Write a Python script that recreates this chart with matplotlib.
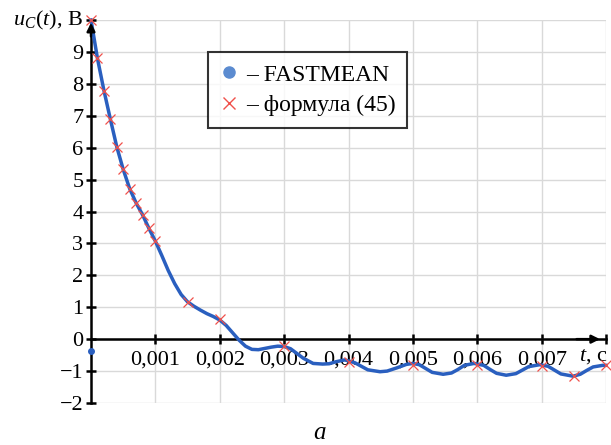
import matplotlib
matplotlib.use('Agg')
import matplotlib.pyplot as plt
from matplotlib.lines import Line2D

# Кривая FASTMEAN
t_curve = [0, 0.0001, 0.0002, 0.0003, 0.0004, 0.0005, 0.0006, 0.0007, 0.0008,
           0.0009, 0.001, 0.0011, 0.0012, 0.0013, 0.0014, 0.0015, 0.0016,
           0.0017, 0.0018, 0.0019, 0.002, 0.0021, 0.0022, 0.0023, 0.0024,
           0.0025, 0.0026, 0.0027, 0.0028, 0.0029, 0.003, 0.0031, 0.0032,
           0.0033, 0.00345, 0.0036, 0.0037, 0.0038, 0.00394, 0.004, 0.0041,
           0.0042, 0.0043, 0.00449, 0.0046, 0.00475, 0.0049, 0.005, 0.0051,
           0.0052, 0.0053, 0.00547, 0.0056, 0.0057, 0.0058, 0.00595, 0.0061,
           0.0062, 0.0063, 0.00645, 0.0066, 0.0067, 0.0068, 0.00697, 0.0071,
           0.0072, 0.0073, 0.00749, 0.0076, 0.0077, 0.0078, 0.00795, 0.008]
u_curve = [10, 8.8, 7.8, 6.9, 6.03, 5.32, 4.72, 4.27, 3.9, 3.47, 3.07, 2.62,
           2.15, 1.74, 1.4, 1.17, 1.03, 0.91, 0.8, 0.71, 0.6, 0.43, 0.2,
           -0.03, -0.22, -0.32, -0.33, -0.29, -0.25, -0.22, -0.23, -0.3,
           -0.45, -0.6, -0.76, -0.78, -0.77, -0.71, -0.65, -0.68, -0.74,
           -0.85, -0.96, -1.02, -1.0, -0.9, -0.79, -0.76, -0.8, -0.92, -1.04,
           -1.1, -1.06, -0.95, -0.82, -0.76, -0.82, -0.95, -1.07, -1.13,
           -1.08, -0.97, -0.86, -0.8, -0.85, -0.97, -1.09, -1.16, -1.1,
           -0.98, -0.87, -0.82, -0.82]

# Точки по формуле (45)
t_formula = [0, 0.0001, 0.0002, 0.0003, 0.0004, 0.0005, 0.0006, 0.0007,
             0.0008, 0.0009, 0.001, 0.0015, 0.002, 0.003, 0.004, 0.005,
             0.006, 0.007, 0.0075, 0.008]
u_formula = [10, 8.8, 7.78, 6.9, 6.03, 5.32, 4.72, 4.27, 3.9, 3.47, 3.07,
             1.17, 0.62, -0.21, -0.71, -0.82, -0.8, -0.84, -1.15, -0.82]

# одиночная точка у оси
t_dot = [0]
u_dot = [-0.38]

x_ticks = [0.001, 0.002, 0.003, 0.004, 0.005, 0.006, 0.007, 0.008]
x_labels = ['0,001', '0,002', '0,003', '0,004', '0,005', '0,006', '0,007', '']
y_ticks = [-2, -1, 0, 1, 2, 3, 4, 5, 6, 7, 8, 9]

plt.rcParams['font.family'] = ['Liberation Serif', 'DejaVu Serif']
plt.rcParams['mathtext.fontset'] = 'custom'
plt.rcParams['mathtext.rm'] = 'Liberation Serif'
plt.rcParams['mathtext.it'] = 'Liberation Serif:italic'

fig = plt.figure(figsize=(6.11, 4.45), dpi=100)
ax = fig.add_axes([91 / 611, 1 - 403 / 445, 515 / 611, 383 / 445])

ax.set_xlim(0, 0.008)
ax.set_ylim(-2, 10)

ax.plot(t_curve, u_curve, color='#2a5fbf', lw=2.5, zorder=3, clip_on=False,
        solid_joinstyle='round')
ax.plot(t_formula, u_formula, ls='none', marker='x', ms=7, mew=0.9,
        color='#f0504a', zorder=4, clip_on=False)
ax.plot(t_dot, u_dot, ls='none', marker='o', ms=4, color='#2a5fbf',
        zorder=4, clip_on=False)

# сетка
ax.set_xticks(x_ticks)
ax.set_xticklabels(x_labels)
ax.set_yticks(y_ticks + [10])
ax.set_yticklabels([str(v).replace('-', '\u2212') for v in y_ticks] + [''])
ax.grid(True, color='#d9d9d9', lw=1.0, zorder=0)

for s in ['top', 'right']:
    ax.spines[s].set_visible(False)
ax.spines['left'].set_position(('data', 0))
ax.spines['bottom'].set_position(('data', 0))
ax.spines['left'].set_linewidth(1.8)
ax.spines['bottom'].set_linewidth(1.8)
ax.spines['left'].set_zorder(2)
ax.spines['bottom'].set_zorder(2)

ax.tick_params(axis='both', direction='inout', length=7, width=1.8,
               labelsize=16, colors='black')
ax.tick_params(axis='x', pad=5)
ax.tick_params(axis='y', pad=2)

# стрелки осей
ax.annotate('', xy=(0, 10), xytext=(0, 9.4),
            arrowprops=dict(arrowstyle='-|>', color='black', lw=1.8,
                            mutation_scale=12), annotation_clip=False)
ax.annotate('', xy=(0.00795, 0), xytext=(0.0075, 0),
            arrowprops=dict(arrowstyle='-|>', color='black', lw=1.8,
                            mutation_scale=12), annotation_clip=False)

ax.text(-0.00012, 10, r'$u_C(t)$, В', ha='right', va='center', fontsize=16)
ax.text(0.00758, -0.25, r'$t$, с', ha='left', va='top', fontsize=16)

handles = [
    Line2D([], [], ls='none', marker='o', ms=8, color='#5b8bd0'),
    Line2D([], [], ls='none', marker='x', ms=8, mew=1.0, color='#f0504a'),
]
leg = ax.legend(handles, ['– FASTMEAN', '– формула (45)'], loc='upper left',
                bbox_to_anchor=(0.227, 0.916), fontsize=17, frameon=True,
                fancybox=False, handlelength=0.8, handletextpad=0.3,
                borderpad=0.5, labelspacing=0.4, borderaxespad=0)
leg.get_frame().set_edgecolor('black')
leg.get_frame().set_linewidth(1.5)
leg.set_zorder(5)

fig.text(320 / 611, 1 - 433 / 445, 'a', fontsize=18, style='italic',
         ha='center', va='center')

fig.savefig('out.png', dpi=100, facecolor='white')
